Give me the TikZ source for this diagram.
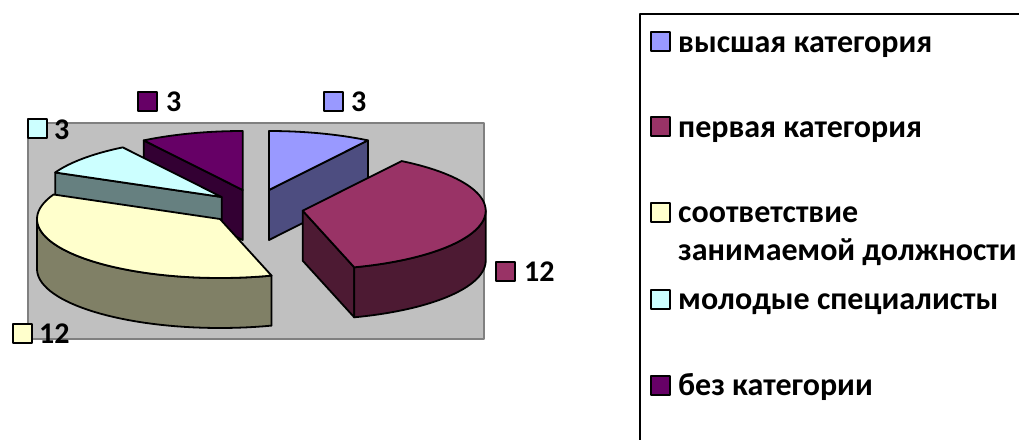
\documentclass[tikz,border=0pt]{standalone}
\usepackage{fontspec}
\setmainfont{Carlito}
\usetikzlibrary{calc}
\def\rx{183}
\def\ry{59}
\def\dep{50}
\definecolor{vysT}{HTML}{9999FF}
\definecolor{vysS}{HTML}{4D4D80}
\definecolor{perT}{HTML}{993366}
\definecolor{perS}{HTML}{4D1A33}
\definecolor{sotT}{HTML}{FFFFCC}
\definecolor{sotS}{HTML}{808066}
\definecolor{molT}{HTML}{CCFFFF}
\definecolor{molS}{HTML}{668080}
\definecolor{bezT}{HTML}{660066}
\definecolor{bezS}{HTML}{330033}
\definecolor{plotbg}{HTML}{C0C0C0}
\definecolor{plotln}{HTML}{808080}

\begin{document}
\begin{tikzpicture}[x=1pt, y=-1pt, line join=round]
	\tikzstyle{face} = [draw, line width=1.8pt]
	\tikzstyle{key}  = [draw, line width=2pt, minimum size=19pt, inner sep=0pt]
	\tikzstyle{lbl}  = [anchor=base west, inner sep=0pt, font=\fontsize{30}{32}\selectfont\bfseries]
	\tikzstyle{leg}  = [anchor=base west, inner sep=0pt, font=\fontsize{32}{38}\selectfont\bfseries]
	\useasboundingbox (0,0) rectangle (1019,439);
	\clip (0,0) rectangle (1019,439);

	%%Plot area
	\draw[fill=plotbg, draw=plotln, line width=2pt] (28,123) rectangle (484,339);

	%%Slice tips
	\coordinate (bez) at (242.7,190);
	\coordinate (vys) at (269,190);
	\coordinate (mol) at (221.7,197);
	\coordinate (per) at (302.7,210.7);
	\coordinate (sot) at (220,219);

	%%без категории
	\begin{scope}[shift={(bez)}]
		\draw[face, fill=bezS] (0,0) -- ({\rx*sin(327.27)},{-\ry*cos(327.27)}) -- ++(0,\dep) -- (0,\dep) -- cycle;
		\draw[face, fill=bezT] (0,0) -- plot[domain=327.27:360, samples=30] ({\rx*sin(\x)},{-\ry*cos(\x)}) -- cycle;
	\end{scope}
	%%высшая категория
	\begin{scope}[shift={(vys)}]
		\draw[face, fill=vysS] (0,0) -- ({\rx*sin(32.73)},{-\ry*cos(32.73)}) -- ++(0,\dep) -- (0,\dep) -- cycle;
		\draw[face, fill=vysT] (0,0) -- plot[domain=0:32.73, samples=30] ({\rx*sin(\x)},{-\ry*cos(\x)}) -- cycle;
	\end{scope}
	%%молодые специалисты
	\begin{scope}[shift={(mol)}]
		\draw[face, fill=molS] (0,0) -- ({\rx*sin(294.55)},{-\ry*cos(294.55)}) -- ++(0,\dep) -- (0,\dep) -- cycle;
		\draw[face, fill=molT] (0,0) -- plot[domain=294.55:327.27, samples=30] ({\rx*sin(\x)},{-\ry*cos(\x)}) -- cycle;
	\end{scope}
	%%первая категория
	\begin{scope}[shift={(per)}]
		\draw[face, fill=perS] (0,0) -- ({\rx*sin(163.64)},{-\ry*cos(163.64)}) -- ++(0,\dep) -- (0,\dep) -- cycle;
		\draw[face, fill=perS] plot[domain=90:163.64, samples=40] ({\rx*sin(\x)},{-\ry*cos(\x)})
			-- plot[domain=163.64:90, samples=40] ({\rx*sin(\x)},{-\ry*cos(\x)+\dep}) -- cycle;
		\draw[face, fill=perT] (0,0) -- plot[domain=32.73:163.64, samples=60] ({\rx*sin(\x)},{-\ry*cos(\x)}) -- cycle;
	\end{scope}
	%%соответствие занимаемой должности
	\begin{scope}[shift={(sot)}]
		\draw[face, fill=sotS] plot[domain=163.64:270, samples=40] ({\rx*sin(\x)},{-\ry*cos(\x)})
			-- plot[domain=270:163.64, samples=40] ({\rx*sin(\x)},{-\ry*cos(\x)+\dep}) -- cycle;
		\draw[face, fill=sotT] (0,0) -- plot[domain=163.64:294.55, samples=60] ({\rx*sin(\x)},{-\ry*cos(\x)}) -- cycle;
	\end{scope}

	%%Data labels
	\node[key, fill=bezT] (kbez) at (147.5,101) {};
	\node[lbl] (nbez) at (166,111) {3};
	\node[key, fill=vysT] (kvys) at (333,101) {};
	\node[lbl] (nvys) at (351,111) {3};
	\node[key, fill=molT] (kmol) at (37.5,128.5) {};
	\node[lbl] (nmol) at (54,139) {3};
	\node[key, fill=sotT] (ksot) at (22,333.5) {};
	\node[lbl] (nsot) at (39,343) {12};
	\node[key, fill=perT] (kper) at (505.5,271.5) {};
	\node[lbl] (nper) at (524,281) {12};

	%%Legend
	\draw[line width=2pt] (640,460) -- (640,14) -- (1040,14);
	\node[key, fill=vysT] (lvys) at (660,41) {};
	\node[leg] (tvys) at (678,52) {высшая категория};
	\node[key, fill=perT] (lper) at (660,126) {};
	\node[leg] (tper) at (678,137) {первая категория};
	\node[key, fill=sotT] (lsot) at (660,212) {};
	\node[leg] (tsot) at (678,222) {соответствие};
	\node[leg] (tsot2) at (678,260) {занимаемой должности};
	\node[key, fill=molT] (lmol) at (660,299) {};
	\node[leg] (tmol) at (678,309) {молодые специалисты};
	\node[key, fill=bezT] (lbez) at (660,385) {};
	\node[leg] (tbez) at (678,395) {без категории};
\end{tikzpicture}
\end{document}
